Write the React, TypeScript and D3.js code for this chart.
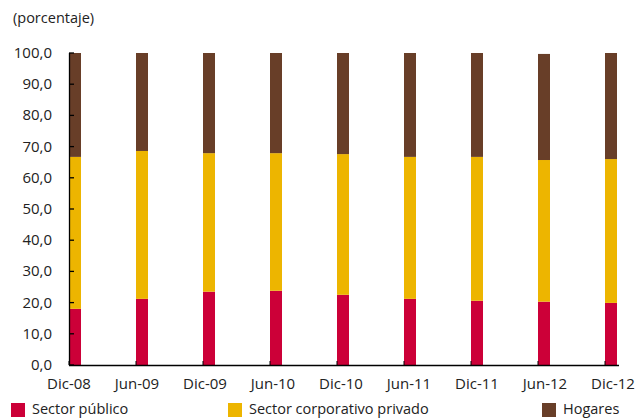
import React from "react";
import * as d3 from "d3";

const categories = ["Dic-08", "Jun-09", "Dic-09", "Jun-10", "Dic-10", "Jun-11", "Dic-11", "Jun-12", "Dic-12"];
const seriesNames = ["Sector público", "Sector corporativo privado", "Hogares"];
const sectorPublico = [18.0, 21.2, 23.5, 23.8, 22.5, 21.2, 20.6, 20.3, 19.9];
const sectorCorporativo = [48.7, 47.4, 44.4, 44.1, 45.1, 45.5, 46.1, 45.4, 46.1];
const hogares = [33.3, 31.4, 32.1, 32.1, 32.4, 33.3, 33.3, 34.0, 34.0];
const yTicks = [0, 10, 20, 30, 40, 50, 60, 70, 80, 90, 100];
const colors = ["#CC0038", "#EDB500", "#683E28"];

const W = 638, H = 418;
const FONT = "'Open Sans', sans-serif";

export default function App() {
  const y = d3.scaleLinear().domain([0, 100]).range([365, 53]);
  const xBar = d3.scalePoint<string>().domain(categories).range([69, 605]);
  const xLabel = d3.scalePoint<string>().domain(categories).range([69, 613]);
  const barW = 12;

  const rows = categories.map((c, i) => ({
    cat: c,
    s0: sectorPublico[i],
    s1: sectorCorporativo[i],
    s2: hogares[i],
  }));
  const stack = d3.stack<any>().keys(["s0", "s1", "s2"])(rows);
  const fmt = (v: number) => d3.format(".1f")(v).replace(".", ",");

  return (
    <svg width={W} height={H} style={{ position: "absolute", left: 0, top: 0 }} fontFamily={FONT}>
      <rect width={W} height={H} fill="#fff" />
      <text x={13} y={23} fontSize={14.5} fill="#222">(porcentaje)</text>
      {stack.map((layer, li) => (
        <g key={li} fill={colors[li]}>
          {layer.map((d, i) => (
            <rect
              key={i}
              x={xBar(categories[i])!}
              y={y(d[1])}
              width={barW}
              height={y(d[0]) - y(d[1])}
            />
          ))}
        </g>
      ))}
      {/* y axis */}
      <line x1={69.5} x2={69.5} y1={53} y2={365.5} stroke="#000" strokeWidth={1.3} />
      {yTicks.map((t) => (
        <g key={t}>
          <line x1={69} x2={74} y1={y(t)} y2={y(t)} stroke="#000" strokeWidth={1.3} />
          <text x={52} y={y(t) + 5} fontSize={15} textAnchor="end" fill="#222">{fmt(t)}</text>
        </g>
      ))}
      {/* x axis */}
      <line x1={69} x2={619} y1={365.5} y2={365.5} stroke="#000" strokeWidth={1.3} />
      {categories.map((c) => (
        <g key={c}>
          <line x1={xBar(c)!} x2={xBar(c)!} y1={365} y2={361} stroke="#000" strokeWidth={1} />
          <text x={xLabel(c)!} y={389} fontSize={15} textAnchor="middle" fill="#222">{c}</text>
        </g>
      ))}
      {/* legend */}
      {[11, 228, 542].map((lx, i) => (
        <g key={i}>
          <rect x={lx} y={403} width={14} height={14} fill={colors[i]} />
          <text x={lx + 21} y={413.5} fontSize={14.5} fill="#222">{seriesNames[i]}</text>
        </g>
      ))}
    </svg>
  );
}
